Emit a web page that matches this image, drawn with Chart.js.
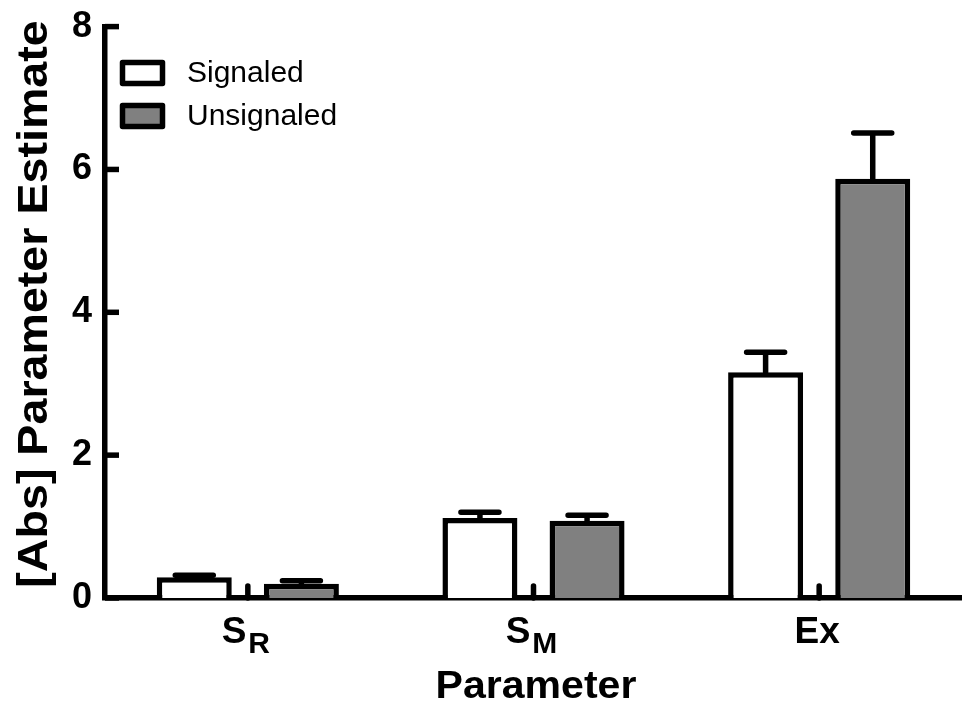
<!DOCTYPE html>
<html>
<head>
<meta charset="utf-8">
<script src="https://cdn.jsdelivr.net/npm/chart.js@4.4.1/dist/chart.umd.min.js"></script>
<style>
  html, body { margin: 0; padding: 0; background: #fff; }
  #wrap { width: 962px; height: 708px; position: relative; }
</style>
</head>
<body>
<div id="wrap"><canvas id="chart"></canvas></div>
<script>
// category labels: main text + subscript
const labelMain = ['S', 'S', 'Ex'];
const labelSub = ['R', 'M', ''];

// parameter estimates and their (upper) error bars
const signaled = [0.29, 1.12, 3.16];
const signaledErr = [0.03, 0.08, 0.28];
const unsignaled = [0.20, 1.08, 5.87];
const unsignaledErr = [0.04, 0.08, 0.64];

const yTicks = [0, 2, 4, 6, 8];

const FONT = '"Liberation Sans", Arial, Helvetica, sans-serif';
const LINE = 5.5;
const errors = [signaledErr, unsignaledErr];

// error bars, inward ticks, category labels, titles and legend
const decorPlugin = {
    id: 'decor',
    afterDatasetsDraw(chart) {
        const ctx = chart.ctx;
        const y = chart.scales.y;
        ctx.save();
        ctx.strokeStyle = '#000';
        ctx.lineWidth = LINE;
        ctx.lineCap = 'round';
        chart.data.datasets.forEach((ds, di) => {
            const meta = chart.getDatasetMeta(di);
            meta.data.forEach((bar, i) => {
                const top = y.getPixelForValue(ds.data[i] + errors[di][i]);
                ctx.beginPath();
                ctx.moveTo(bar.x, bar.y);
                ctx.lineTo(bar.x, top);
                ctx.moveTo(bar.x - 19, top);
                ctx.lineTo(bar.x + 19, top);
                ctx.stroke();
            });
        });
        ctx.restore();
    },
    afterDraw(chart) {
        const ctx = chart.ctx;
        const area = chart.chartArea;
        const x = chart.scales.x;
        const y = chart.scales.y;
        ctx.save();
        ctx.strokeStyle = '#000';
        ctx.fillStyle = '#000';
        ctx.lineWidth = LINE;

        // y ticks pointing into the plot
        ctx.lineCap = 'butt';
        yTicks.forEach(v => {
            const py = y.getPixelForValue(v);
            ctx.beginPath();
            ctx.moveTo(area.left, py);
            ctx.lineTo(area.left + 14, py);
            ctx.stroke();
        });

        // x ticks at group centres, pointing up
        ctx.lineCap = 'round';
        labelMain.forEach((_, i) => {
            const px = x.getPixelForValue(i);
            ctx.beginPath();
            ctx.moveTo(px, area.bottom);
            ctx.lineTo(px, area.bottom - 12);
            ctx.stroke();
        });

        // category labels with subscripts
        ctx.textBaseline = 'alphabetic';
        ctx.textAlign = 'left';
        labelMain.forEach((m, i) => {
            const px = x.getPixelForValue(i);
            ctx.font = 'bold 37px ' + FONT;
            const wm = ctx.measureText(m).width;
            ctx.font = 'bold 30px ' + FONT;
            const ws = labelSub[i] ? ctx.measureText(labelSub[i]).width + 2 : 0;
            const start = px - (wm + ws) / 2 - 2;
            ctx.font = 'bold 37px ' + FONT;
            ctx.fillText(m, start, 643);
            if (labelSub[i]) {
                ctx.font = 'bold 30px ' + FONT;
                ctx.fillText(labelSub[i], start + wm + 2, 653);
            }
        });

        // x axis title
        ctx.save();
        ctx.font = 'bold 38px ' + FONT;
        ctx.textAlign = 'center';
        ctx.translate(536, 698);
        ctx.scale(1.08, 1);
        ctx.fillText('Parameter', 0, 0);
        ctx.restore();

        // y axis title
        ctx.save();
        ctx.font = 'bold 42px ' + FONT;
        ctx.textAlign = 'center';
        ctx.textBaseline = 'middle';
        ctx.translate(35, 304);
        ctx.rotate(-Math.PI / 2);
        ctx.scale(1.11, 1);
        ctx.fillText('[Abs] Parameter Estimate', 0, 0);
        ctx.restore();

        // legend
        ctx.font = '30px ' + FONT;
        ctx.textBaseline = 'middle';
        chart.data.datasets.forEach((ds, i) => {
            const by = 60 + i * 43;
            ctx.fillStyle = ds.backgroundColor;
            ctx.fillRect(122.5, by + 2.5, 40, 21);
            ctx.lineWidth = LINE;
            ctx.lineJoin = 'round';
            ctx.strokeRect(122.5, by + 2.5, 40, 21);
            ctx.fillStyle = '#000';
            ctx.fillText(ds.label, 187, by + 14);
        });
        ctx.restore();
    }
};

new Chart(document.getElementById('chart'), {
    type: 'bar',
    data: {
        labels: labelMain.map((m, i) => m + labelSub[i]),
        datasets: [
            {
                label: 'Signaled',
                data: signaled,
                backgroundColor: '#ffffff',
                borderColor: '#000000',
                borderWidth: LINE,
                categoryPercentage: 0.75,
                barPercentage: 0.7
            },
            {
                label: 'Unsignaled',
                data: unsignaled,
                backgroundColor: '#808080',
                borderColor: '#000000',
                borderWidth: LINE,
                categoryPercentage: 0.75,
                barPercentage: 0.7
            }
        ]
    },
    options: {
        responsive: true,
        maintainAspectRatio: false,
        animation: false,
        layout: { padding: { top: 25, right: 0, left: 0, bottom: 0 } },
        plugins: {
            legend: { display: false },
            tooltip: { enabled: false }
        },
        scales: {
            x: {
                offset: true,
                z: 1,
                grid: { display: false },
                border: { display: true, color: '#000', width: LINE },
                ticks: { display: false },
                afterFit: s => { s.height = 110; }
            },
            y: {
                min: 0,
                max: 8,
                z: 1,
                grid: { display: false },
                border: { display: true, color: '#000', width: LINE },
                ticks: {
                    stepSize: 2,
                    color: '#000',
                    padding: 5,
                    font: { family: FONT, size: 36, weight: 'bold' }
                },
                afterFit: s => { s.width = 105; }
            }
        }
    },
    plugins: [decorPlugin]
});
</script>
</body>
</html>
